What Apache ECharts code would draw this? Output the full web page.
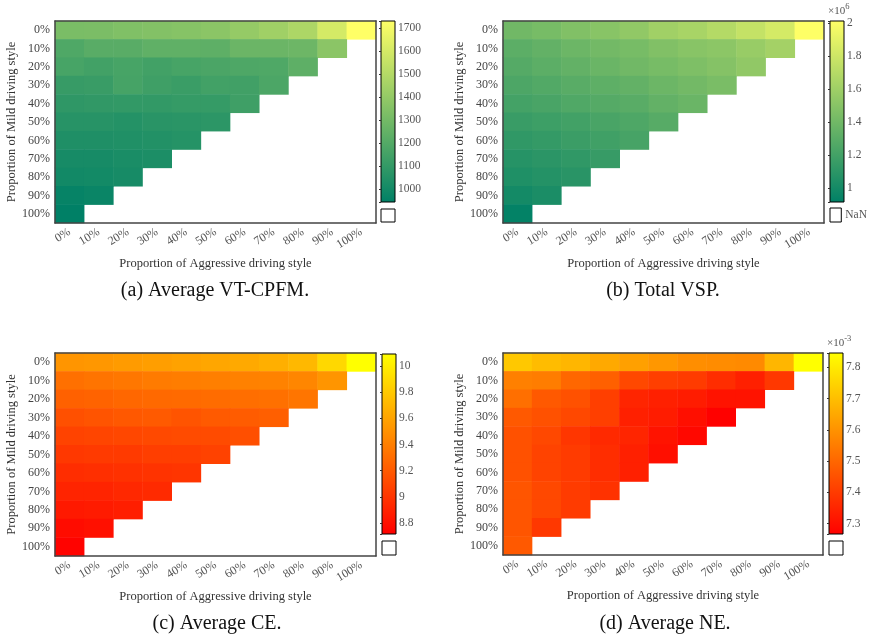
<!DOCTYPE html>
<html><head><meta charset="utf-8">
<script src="https://cdn.jsdelivr.net/npm/echarts@6/dist/echarts.min.js"></script>
<style>html,body{margin:0;padding:0;background:#fff}#c{width:870px;height:638px}</style>
</head><body><div id="c"></div>
<script>
const aggrLabels = ['0%','10%','20%','30%','40%','50%','60%','70%','80%','90%','100%'];
const mildLabels = ['0%','10%','20%','30%','40%','50%','60%','70%','80%','90%','100%'];

// (a) Average VT-CPFM, rows = mild share, columns = aggressive share
const vtcpfm = [
  [1320,1325,1340,1350,1360,1375,1405,1440,1480,1600,1732],
  [1190,1220,1220,1240,1240,1235,1275,1275,1280,1375],
  [1165,1150,1165,1150,1165,1175,1185,1190,1235],
  [1115,1120,1160,1140,1125,1150,1145,1180],
  [1090,1095,1100,1100,1110,1110,1140],
  [1065,1065,1055,1070,1075,1080],
  [1040,1040,1045,1050,1060],
  [1015,1015,1025,1030],
  [1000,1005,1015],
  [965,975],
  [945]
];
// (b) Total VSP (x10^6)
const vsp = [
  [1.40,1.43,1.47,1.50,1.54,1.61,1.64,1.69,1.76,1.83,2.01],
  [1.31,1.34,1.38,1.41,1.43,1.47,1.50,1.52,1.57,1.62],
  [1.28,1.31,1.34,1.37,1.40,1.43,1.46,1.49,1.54],
  [1.245,1.27,1.30,1.32,1.34,1.38,1.41,1.44],
  [1.21,1.23,1.26,1.28,1.30,1.34,1.37],
  [1.16,1.18,1.20,1.23,1.25,1.29],
  [1.12,1.14,1.17,1.19,1.22],
  [1.08,1.10,1.12,1.15],
  [1.05,1.07,1.09],
  [1.00,1.03],
  [0.93]
];
// (c) Average CE
const ce = [
  [9.52,9.53,9.55,9.57,9.59,9.61,9.63,9.66,9.71,9.88,10.09],
  [9.32,9.34,9.36,9.38,9.39,9.40,9.41,9.42,9.44,9.52],
  [9.24,9.25,9.27,9.28,9.29,9.30,9.31,9.32,9.35],
  [9.15,9.17,9.19,9.20,9.17,9.20,9.21,9.23],
  [9.08,9.09,9.10,9.11,9.12,9.12,9.14],
  [9.02,9.03,9.03,9.05,9.05,9.07],
  [8.96,8.97,8.98,8.99,9.00],
  [8.91,8.91,8.93,8.94],
  [8.85,8.86,8.88],
  [8.78,8.80],
  [8.73]
];
// (d) Average NE (x10^-3)
const ne = [
  [7.72,7.695,7.68,7.65,7.63,7.61,7.59,7.585,7.58,7.68,7.846],
  [7.557,7.55,7.50,7.485,7.43,7.41,7.40,7.37,7.34,7.395],
  [7.52,7.47,7.45,7.41,7.35,7.34,7.33,7.31,7.31],
  [7.47,7.45,7.43,7.41,7.34,7.33,7.30,7.27],
  [7.45,7.43,7.39,7.36,7.35,7.31,7.285],
  [7.45,7.42,7.40,7.37,7.34,7.30],
  [7.45,7.42,7.40,7.37,7.34],
  [7.46,7.43,7.40,7.38],
  [7.46,7.43,7.40],
  [7.46,7.395],
  [7.47]
];

// colour-bar extents and tick steps
const vtcpfmRange = [945, 1732];
const vspRange = [0.915, 2.014];
const ceRange = [8.716, 10.092];
const neRange = [7.267, 7.846];

const summer = ['#008066', '#ffff66'];
const autumn = ['#ff0000', '#ffff00'];
const FONT = 'Liberation Serif';

const panels = [
  {data: vtcpfm, range: vtcpfmRange, step: 100, split: 7, cmap: summer,
   grid: {left: 55, top: 21, width: 321, height: 202},
   cb: {left: 381, top: 21, width: 14, height: 181},
   nan: {left: 381, top: 209, width: 14, height: 13}, exp: null, nanLabel: false},
  {data: vsp, range: vspRange, step: 0.2, split: 5, cmap: summer,
   grid: {left: 503, top: 21, width: 321, height: 202},
   cb: {left: 830, top: 21, width: 14, height: 181},
   nan: {left: 830, top: 208, width: 14, height: 14}, exp: '6', nanLabel: true},
  {data: ce, range: ceRange, step: 0.2, split: 6, cmap: autumn,
   grid: {left: 55, top: 353, width: 321, height: 203},
   cb: {left: 382, top: 354, width: 14, height: 180},
   nan: {left: 382, top: 541, width: 14, height: 14}, exp: null, nanLabel: false},
  {data: ne, range: neRange, step: 0.1, split: 6, cmap: autumn,
   grid: {left: 503, top: 353, width: 320, height: 202},
   cb: {left: 829, top: 353, width: 14, height: 181},
   nan: {left: 829, top: 541, width: 14, height: 14}, exp: '-3', nanLabel: false}
];

const captions = [
  {text: '(a) Average VT-CPFM.', x: 215, y: 291},
  {text: '(b) Total VSP.', x: 663, y: 291},
  {text: '(c) Average CE.', x: 217, y: 624},
  {text: '(d) Average NE.', x: 665, y: 624}
];

const grid = [], xAxis = [], yAxis = [], series = [], visualMap = [], graphic = [];
const lineStyle = {color: '#444', width: 1.5};

panels.forEach((p, k) => {
  const gMain = grid.length;
  grid.push(Object.assign({show: false}, p.grid));
  const gCb = grid.length;
  grid.push(Object.assign({show: true, borderColor: '#000', borderWidth: 1,
    backgroundColor: new echarts.graphic.LinearGradient(0, 0, 0, 1, [
      {offset: 0, color: p.cmap[1]}, {offset: 1, color: p.cmap[0]}])}, p.cb));
  const gNan = grid.length;
  grid.push(Object.assign({show: true, borderColor: '#000', borderWidth: 1, backgroundColor: '#fff'}, p.nan));

  // main heatmap axes
  const xi = xAxis.length;
  xAxis.push({type: 'category', gridIndex: gMain, data: aggrLabels, z: 10,
    axisLine: {show: true, onZero: false, lineStyle}, axisTick: {show: false}, splitLine: {show: false},
    axisLabel: {interval: 0, rotate: 32, margin: 8, fontFamily: FONT, fontSize: 12, color: '#555'},
    name: 'Proportion of Aggressive driving style', nameLocation: 'middle', nameGap: 34,
    nameTextStyle: {fontFamily: FONT, fontSize: 12.5, color: '#333'}});
  xAxis.push({type: 'category', gridIndex: gMain, data: aggrLabels, position: 'top', z: 10,
    axisLine: {show: true, onZero: false, lineStyle}, axisTick: {show: false}, axisLabel: {show: false}, splitLine: {show: false}});
  const yi = yAxis.length;
  yAxis.push({type: 'category', gridIndex: gMain, data: mildLabels, inverse: true, z: 10,
    axisLine: {show: true, onZero: false, lineStyle}, axisTick: {show: false}, splitLine: {show: false},
    axisLabel: {interval: 0, margin: 5, fontFamily: FONT, fontSize: 12, color: '#444'},
    name: 'Proportion of Mild driving style', nameLocation: 'middle', nameGap: 35,
    nameTextStyle: {fontFamily: FONT, fontSize: 12.5, color: '#333'}});
  yAxis.push({type: 'category', gridIndex: gMain, data: mildLabels, inverse: true, position: 'right', z: 10,
    axisLine: {show: true, onZero: false, lineStyle}, axisTick: {show: false}, axisLabel: {show: false}, splitLine: {show: false}});

  // colour bar axes
  xAxis.push({type: 'value', gridIndex: gCb, show: false, min: 0, max: 1});
  const step = p.step;
  yAxis.push({type: 'value', gridIndex: gCb, position: 'right', min: p.range[0], max: p.range[1],
    splitNumber: p.split, z: 10,
    axisLine: {show: false}, splitLine: {show: false},
    axisTick: {show: true, inside: true, length: 2, lineStyle: {color: '#333', width: 1}},
    axisLabel: {margin: 3, fontFamily: FONT, fontSize: 11.5, color: '#555',
      formatter: v => Math.abs(v / step - Math.round(v / step)) < 1e-6 ? String(+v.toFixed(2)) : ''},
    name: p.exp ? '{a|×10}{b|' + p.exp + '}' : '', nameLocation: 'end', nameGap: 4,
    nameTextStyle: {align: 'left', padding: [0, 0, 0, -2], rich: {
      a: {fontFamily: FONT, fontSize: 11, color: '#555', verticalAlign: 'bottom'},
      b: {fontFamily: FONT, fontSize: 8.5, color: '#555', verticalAlign: 'top', padding: [0, 0, 6, 0]}}}});

  // NaN box axes
  xAxis.push({type: 'value', gridIndex: gNan, show: false, min: 0, max: 1});
  yAxis.push({type: 'category', gridIndex: gNan, position: 'right', data: [p.nanLabel ? 'NaN' : ''],
    axisLine: {show: false}, axisTick: {show: false}, splitLine: {show: false},
    axisLabel: {show: p.nanLabel, margin: 4, fontFamily: FONT, fontSize: 11.5, color: '#555'}});

  const data = [];
  p.data.forEach((row, i) => row.forEach((v, j) => data.push([j, i, v])));
  series.push({type: 'heatmap', xAxisIndex: xi, yAxisIndex: yi, data,
    itemStyle: {borderWidth: 0}, emphasis: {disabled: true}, label: {show: false}});
  visualMap.push({show: false, type: 'continuous', seriesIndex: k, min: p.range[0], max: p.range[1],
    dimension: 2, inRange: {color: p.cmap}});
});

captions.forEach(c => graphic.push({type: 'text', x: c.x, y: c.y,
  style: {text: c.text, textAlign: 'center', textVerticalAlign: 'middle',
    font: '20px "Liberation Serif"', fill: '#111'}}));

const chart = echarts.init(document.getElementById('c'), null, {renderer: 'canvas'});
chart.setOption({animation: false, backgroundColor: '#fff', grid, xAxis, yAxis, series, visualMap, graphic});
</script></body></html>
